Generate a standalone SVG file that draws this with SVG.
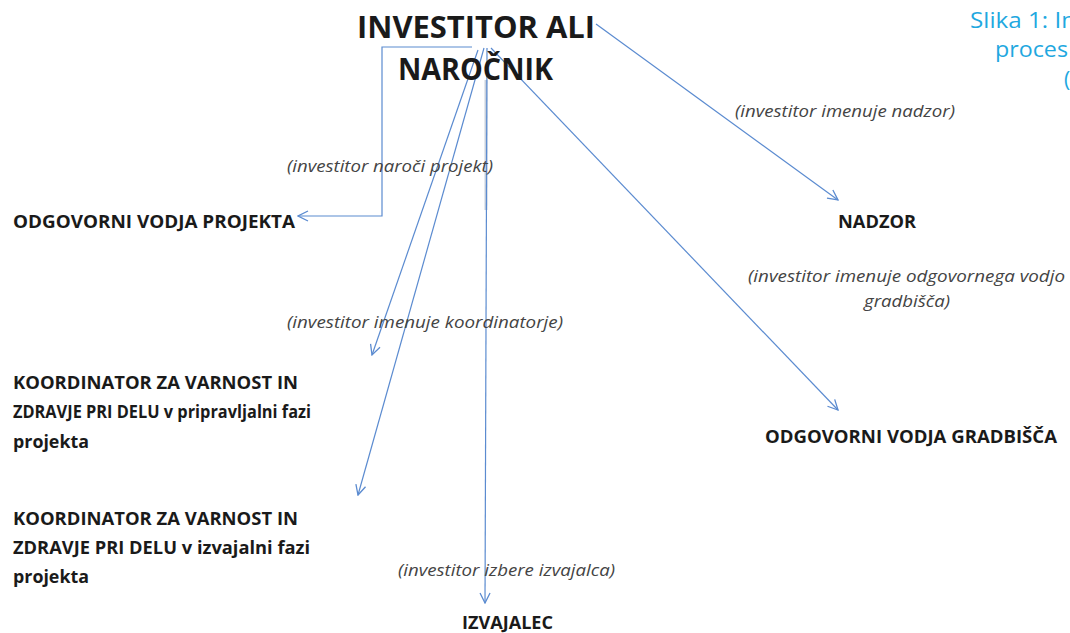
<svg xmlns="http://www.w3.org/2000/svg" width="1070" height="633" viewBox="0 0 1070 633">
<defs>
<marker id="ah" viewBox="0 0 12 12" refX="11" refY="6" markerWidth="12" markerHeight="12" markerUnits="userSpaceOnUse" orient="auto">
<path d="M1,1 L11,6 L1,11" fill="none" stroke="#5b8bd0" stroke-width="1.3"/>
</marker>
<style>
.node{font-family:"Open Sans","Liberation Sans",sans-serif;font-weight:bold;fill:#1a1a1a;font-size:17px}
.title{font-family:"Open Sans","Liberation Sans",sans-serif;font-weight:bold;fill:#1a1a1a;font-size:30px}
.lab{font-family:"Open Sans","Liberation Sans",sans-serif;font-style:italic;fill:#444;font-size:15.5px}
.cap{font-family:"Open Sans","Liberation Sans",sans-serif;fill:#1fa8e0;font-size:21px}
.c{fill:none;stroke:#5b8bd0;stroke-width:1.2}
</style>
</defs>
<rect width="1070" height="633" fill="#fff"/>
<g id="caption">
<text class="cap" x="970" y="28" textLength="106" lengthAdjust="spacingAndGlyphs">Slika 1: In</text>
<text class="cap" x="995" y="57" textLength="73" lengthAdjust="spacingAndGlyphs">proces</text>
<text class="cap" x="1064" y="87">(</text>
</g>
<g id="connectors">
<line x1="486" y1="80" x2="486" y2="210" stroke="#c8d0dc" stroke-width="3"/>
<path class="c" d="M472,47 L382,47 L382,216 L298,216" marker-end="url(#ah)"/>
<line class="c" x1="478" y1="50" x2="372" y2="355" marker-end="url(#ah)"/>
<line class="c" x1="484" y1="48" x2="358" y2="495" marker-end="url(#ah)"/>
<line class="c" x1="487" y1="48" x2="485" y2="603" marker-end="url(#ah)"/>
<line class="c" x1="491" y1="48" x2="838" y2="410" marker-end="url(#ah)"/>
<line class="c" x1="596" y1="24" x2="838" y2="200" marker-end="url(#ah)"/>
</g>
<g id="investitor">
<text class="title" x="357" y="38" textLength="238" lengthAdjust="spacingAndGlyphs">INVESTITOR ALI</text>
<text class="title" x="398" y="80" textLength="155" lengthAdjust="spacingAndGlyphs">NAROČNIK</text>
</g>
<g id="labels">
<text class="lab" x="287" y="172" textLength="206" lengthAdjust="spacingAndGlyphs">(investitor naroči projekt)</text>
<text class="lab" x="735" y="117" textLength="220" lengthAdjust="spacingAndGlyphs">(investitor imenuje nadzor)</text>
<text class="lab" x="748" y="282" textLength="317" lengthAdjust="spacingAndGlyphs">(investitor imenuje odgovornega vodjo</text>
<text class="lab" x="864" y="307" textLength="86" lengthAdjust="spacingAndGlyphs">gradbišča)</text>
<text class="lab" x="287" y="328" textLength="276" lengthAdjust="spacingAndGlyphs">(investitor imenuje koordinatorje)</text>
<text class="lab" x="398" y="576" textLength="217" lengthAdjust="spacingAndGlyphs">(investitor izbere izvajalca)</text>
</g>
<g id="vodja-projekta"><text class="node" x="13" y="228" textLength="282" lengthAdjust="spacingAndGlyphs">ODGOVORNI VODJA PROJEKTA</text></g>
<g id="nadzor"><text class="node" x="838" y="228" textLength="78" lengthAdjust="spacingAndGlyphs">NADZOR</text></g>
<g id="vodja-gradbisca"><text class="node" x="765" y="443" textLength="292" lengthAdjust="spacingAndGlyphs">ODGOVORNI VODJA GRADBIŠČA</text></g>
<g id="koordinator-priprava">
<text class="node" x="13" y="389" textLength="285" lengthAdjust="spacingAndGlyphs">KOORDINATOR ZA VARNOST IN</text>
<text class="node" x="13" y="418" textLength="298" lengthAdjust="spacingAndGlyphs">ZDRAVJE PRI DELU v pripravljalni fazi</text>
<text class="node" x="13" y="448" textLength="76" lengthAdjust="spacingAndGlyphs">projekta</text>
</g>
<g id="koordinator-izvedba">
<text class="node" x="13" y="525" textLength="285" lengthAdjust="spacingAndGlyphs">KOORDINATOR ZA VARNOST IN</text>
<text class="node" x="13" y="554" textLength="297" lengthAdjust="spacingAndGlyphs">ZDRAVJE PRI DELU v izvajalni fazi</text>
<text class="node" x="13" y="583" textLength="76" lengthAdjust="spacingAndGlyphs">projekta</text>
</g>
<g id="izvajalec"><text class="node" x="462" y="629" textLength="91" lengthAdjust="spacingAndGlyphs">IZVAJALEC</text></g>
</svg>
